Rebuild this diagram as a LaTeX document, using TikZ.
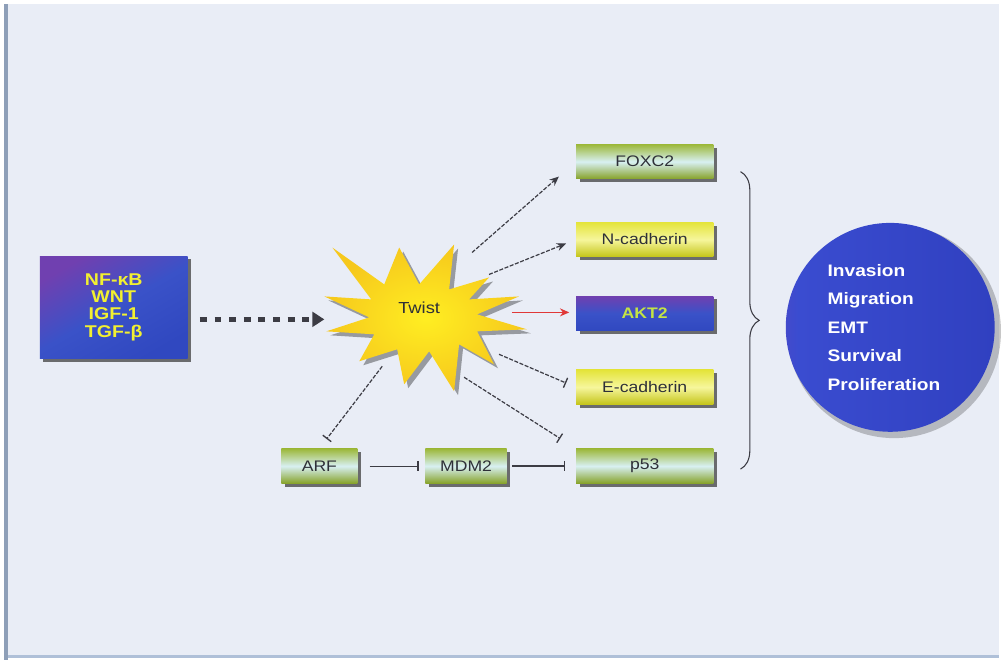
\documentclass[tikz,border=0pt]{standalone}
\usepackage{fontspec}
\setmainfont{Liberation Sans}[FakeStretch=1.15]
\usetikzlibrary{arrows.meta,shadows,decorations.pathreplacing,calc}
\definecolor{bg}{HTML}{E9EDF6}
\definecolor{edgeL}{HTML}{8E9FB8}
\definecolor{edgeB}{HTML}{AFC0D8}
\definecolor{gTop}{HTML}{9CB83A}
\definecolor{gMid}{HTML}{D8F0F2}
\definecolor{gBot}{HTML}{86A228}
\definecolor{yTop}{HTML}{E4E43A}
\definecolor{yMid}{HTML}{F6F69C}
\definecolor{yBot}{HTML}{C4C418}
\definecolor{pTop}{HTML}{7040B0}
\definecolor{pMid}{HTML}{3A52C8}
\definecolor{pBot}{HTML}{3048C0}
\definecolor{akTxt}{HTML}{C4E444}
\definecolor{nfTxt}{HTML}{F2F030}
\definecolor{txtG}{HTML}{2E3038}
\definecolor{lineG}{HTML}{3C3C44}
\definecolor{starY}{HTML}{FFEE22}
\definecolor{starO}{HTML}{F6C81C}
\definecolor{redA}{HTML}{E03838}
\definecolor{ballP}{HTML}{7A3CB0}
\definecolor{ballB}{HTML}{3A4CD0}
\definecolor{ballB2}{HTML}{3040C0}
\pgfdeclarehorizontalshading{ballsh}{100bp}{color(0bp)=(ballP); color(6bp)=(ballP); color(28bp)=(ballB); color(75bp)=(ballB2); color(100bp)=(ballB2)}
\begin{document}
\begin{tikzpicture}[x=0.75pt,y=-0.75pt,
  shad/.style={drop shadow={shadow xshift=2.5pt,shadow yshift=-2.5pt,fill=black!75,opacity=0.75}},
  boxlbl/.style={font=\fontsize{11.5}{12}\selectfont,text=txtG,inner sep=0pt},
  gbox/.style={boxlbl,shad,minimum width=103pt,minimum height=26pt,top color=gTop,bottom color=gBot,middle color=gMid},
  ybox/.style={boxlbl,shad,minimum width=103pt,minimum height=26pt,top color=yTop,bottom color=yBot,middle color=yMid},
  dasharr/.style={draw=lineG,line width=0.9pt,dash pattern=on 3pt off 1.2pt},
  inh/.style={-{Bar[width=8pt,line width=1pt]}},
  act/.style={-{Stealth[length=7pt,width=6pt]}}
]
% background
\fill[white] (0,0) rectangle (1001,661);
\fill[bg] (8,4) rectangle (1001,657);
\fill[edgeL] (4,4) rectangle (8,661);
\fill[edgeB] (8,656) rectangle (1001,659);

% left box
\node[shad,minimum width=111pt,minimum height=77pt,top color=pTop,bottom color=pBot,middle color=pMid,shading angle=30,
      text=nfTxt,font=\bfseries\fontsize{12.8}{12.8}\selectfont,align=center,inner sep=0pt]
  (nfkb) at (114,308) {NF-κB\\WNT\\IGF-1\\TGF-β};

% starburst
\begin{scope}[shift={(4,4)}]
\fill[black,opacity=0.35] (400,248) -- (420,285) -- (455,245) -- (450,290) -- (490,278) -- (470,300) -- (520,297) -- (478,315) -- (528,330) -- (478,332) -- (495,365) -- (460,345) -- (455,392) -- (430,352) -- (405,385) -- (398,350) -- (360,362) -- (375,335) -- (327,332) -- (370,318) -- (325,297) -- (372,300) -- (333,248) -- (385,285) -- cycle;
\end{scope}
\shade[inner color=starY,outer color=starO] (400,248) -- (420,285) -- (455,245) -- (450,290) -- (490,278) -- (470,300) -- (520,297) -- (478,315) -- (528,330) -- (478,332) -- (495,365) -- (460,345) -- (455,392) -- (430,352) -- (405,385) -- (398,350) -- (360,362) -- (375,335) -- (327,332) -- (370,318) -- (325,297) -- (372,300) -- (333,248) -- (385,285) -- cycle;
\node[font=\fontsize{12}{12}\selectfont,text=txtG] (twist) at (420,308) {Twist};
\coordinate (twistL) at (325,320);
\coordinate (tF) at (473,253);
\coordinate (tN) at (490,275);
\coordinate (tA) at (513,313);
\coordinate (tE) at (500,355);
\coordinate (tP) at (465,378);
\coordinate (tR) at (383,367);

% right boxes
\node[gbox] (foxc2) at (646,162) {FOXC2};
\node[ybox] (ncad) at (646,240) {N-cadherin};
\node[boxlbl,shad,minimum width=103pt,minimum height=26pt,top color=pTop,bottom color=pBot,middle color=pMid,text=akTxt,font=\bfseries\fontsize{11.5}{12}\selectfont] (akt2) at (646,314) {AKT2};
\node[ybox] (ecad) at (646,388) {E-cadherin};
\node[gbox] (p53) at (646,467) {p53};
\node[gbox,minimum width=57pt] (arf) at (320,467) {ARF};
\node[gbox,minimum width=61pt] (mdm2) at (467,467) {MDM2};

% connectors
\draw[line width=3.8pt,draw=lineG,dash pattern=on 5.2pt off 5.8pt,-{Triangle[length=9pt,width=11pt]}]
  ($(nfkb.east |- twistL)+(12,0)$) -- (twistL);
\draw[dasharr,act,shorten >=17pt] (tF) -- (foxc2.west);
\draw[dasharr,act,shorten >=8pt] (tN) -- (ncad.west);
\draw[redA,line width=0.9pt,act,shorten >=5pt] (tA) -- (akt2.west |- tA);
\draw[dasharr,inh,shorten >=8pt] (tE) -- (ecad.west);
\draw[dasharr,inh,shorten >=14pt] (tP) -- (p53.north west);
\draw[dasharr,inh,shorten >=9pt] (tR) -- (arf.north);
\draw[lineG,line width=0.6pt,inh,shorten <=9pt,shorten >=5pt] (arf.east) -- (mdm2.west);
\draw[lineG,line width=0.9pt,inh,shorten <=4pt,shorten >=8pt] (mdm2.east) -- (p53.west);

% brace
\coordinate (brT) at (742,172);
\coordinate (brB) at (742,470);
\draw[lineG,line width=0.8pt,decorate,decoration={brace,amplitude=14pt,aspect=0.5}] (brT) -- (brB);

% outcome ball
\fill[black,opacity=0.22] (896,332) circle[radius=107];
\node[circle,minimum size=157pt,inner sep=0pt,shading=ballsh] (ball) at (892,328) {};
\node[text=white,font=\bfseries\fontsize{12.5}{21.5}\selectfont,align=left,anchor=west,inner sep=0pt] (outc) at (829,328)
  {Invasion\\Migration\\EMT\\Survival\\Proliferation};
\end{tikzpicture}
\end{document}
